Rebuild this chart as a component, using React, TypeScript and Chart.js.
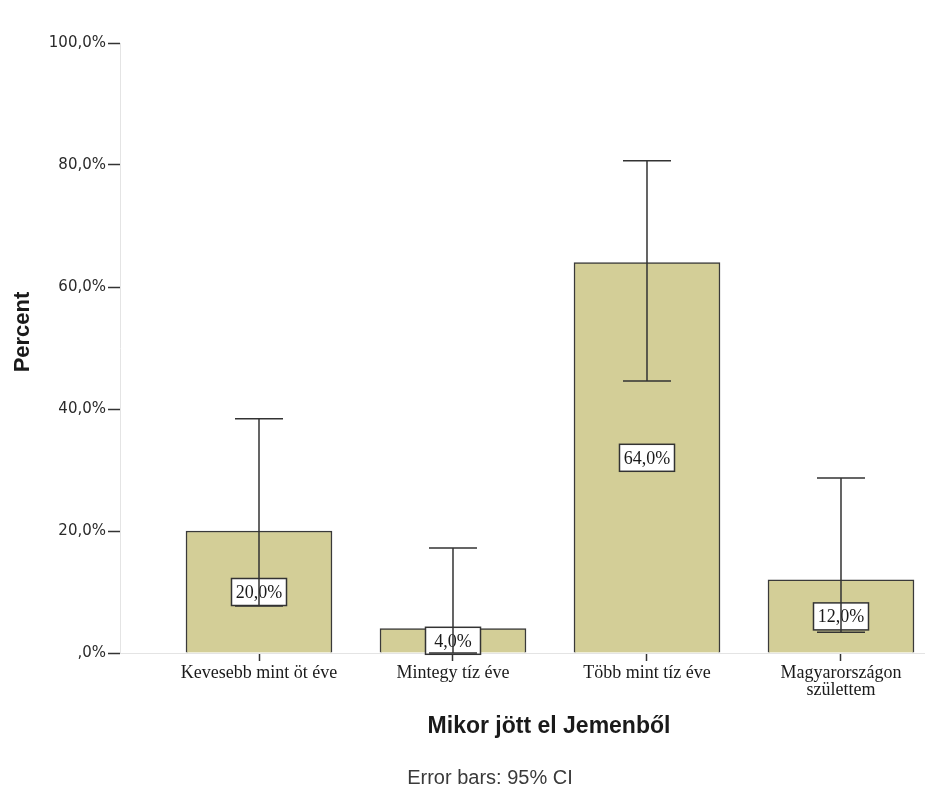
import React, { useEffect, useRef } from "react";
import { Chart, registerables } from "chart.js";

Chart.register(...registerables);

const categories: (string | string[])[] = [
  "Kevesebb mint öt éve",
  "Mintegy tíz éve",
  "Több mint tíz éve",
  ["Magyarországon", "születtem"],
];
const percents = [20, 4, 64, 12];
const ciLower = [7.7, 0, 44.6, 3.4];
const ciUpper = [38.4, 17.2, 80.7, 28.7];
const yTicks = [0, 20, 40, 60, 80, 100];

const xTitle = "Mikor jött el Jemenből";
const yTitle = "Percent";
const footnote = "Error bars: 95% CI";

const fmt = (v: number) => (v === 0 ? ",0%" : `${v.toFixed(1).replace(".", ",")}%`);

export default function App() {
  const ref = useRef<HTMLCanvasElement | null>(null);

  useEffect(() => {
    if (!ref.current) return;
    const overlay = {
      id: "overlay",
      afterDatasetsDraw(chart: any) {
        const { ctx, scales } = chart;
        const x = scales.x;
        const y = scales.y;
        ctx.save();
        // value labels
        percents.forEach((v, i) => {
          const cx = x.getPixelForValue(i);
          const cy = y.getPixelForValue(v / 2);
          const w = 55;
          const h = 27;
          ctx.fillStyle = "#ffffff";
          ctx.fillRect(cx - w / 2, cy - h / 2, w, h);
          ctx.strokeStyle = "#333333";
          ctx.lineWidth = 1.5;
          ctx.strokeRect(cx - w / 2, cy - h / 2, w, h);
          ctx.fillStyle = "#1a1a1a";
          ctx.font = "18px 'Liberation Serif'";
          ctx.textAlign = "center";
          ctx.textBaseline = "middle";
          ctx.fillText(fmt(v), cx, cy + 1);
        });
        // error bars
        ctx.strokeStyle = "#333333";
        ctx.lineWidth = 1.5;
        percents.forEach((_, i) => {
          const cx = x.getPixelForValue(i);
          const yl = y.getPixelForValue(ciLower[i]);
          const yh = y.getPixelForValue(ciUpper[i]);
          const cap = 24;
          ctx.beginPath();
          ctx.moveTo(cx, yl);
          ctx.lineTo(cx, yh);
          ctx.moveTo(cx - cap, yh);
          ctx.lineTo(cx + cap, yh);
          ctx.moveTo(cx - cap, yl);
          ctx.lineTo(cx + cap, yl);
          ctx.stroke();
        });
        ctx.restore();
      },
      afterDraw(chart: any) {
        const { ctx } = chart;
        ctx.save();
        ctx.fillStyle = "#1a1a1a";
        ctx.textAlign = "center";
        ctx.textBaseline = "middle";
        ctx.font = "bold 23px 'Liberation Sans'";
        ctx.fillText(xTitle, 549, 727);
        ctx.font = "20px 'Liberation Sans'";
        ctx.fillStyle = "#3a3a3a";
        ctx.fillText(footnote, 490, 778);
        ctx.translate(23, 332);
        ctx.rotate(-Math.PI / 2);
        ctx.fillStyle = "#1a1a1a";
        ctx.font = "bold 22px 'Liberation Sans'";
        ctx.fillText(yTitle, 0, 0);
        ctx.restore();
      },
    };

    const chart = new Chart(ref.current, {
      type: "bar",
      data: {
        datasets: [
          {
            data: percents.map((v, i) => ({ x: i, y: v })),
            backgroundColor: "#d3ce97",
            borderColor: "#3a3a3a",
            borderWidth: 1.5,
            barThickness: 146,
          } as any,
        ],
      },
      options: {
        animation: false,
        responsive: false,
        devicePixelRatio: 1,
        layout: { padding: { top: 43, left: 0, right: 0, bottom: 0 } },
        plugins: { legend: { display: false }, tooltip: { enabled: false } },
        scales: {
          x: {
            type: "linear",
            min: -0.7165,
            max: 3.433,
            offset: false,
            afterBuildTicks: (s: any) => {
              s.ticks = categories.map((_, i) => ({ value: i }));
            },
            afterFit: (s: any) => {
              s.height = 138;
            },
            grid: {
              offset: false,
              drawOnChartArea: false,
              drawTicks: true,
              tickLength: 8,
              tickColor: "#333333",
              tickWidth: 1.5,
            },
            border: { color: "#e4e4e4", width: 1 },
            ticks: {
              autoSkip: false,
              maxRotation: 0,
              padding: 4,
              color: "#1a1a1a",
              font: { family: "'Liberation Serif'", size: 18, lineHeight: 0.95 },
              callback: (v: any) => categories[v as number] as any,
            },
          },
          y: {
            min: 0,
            max: 100,
            afterBuildTicks: (s: any) => {
              s.ticks = yTicks.map((v) => ({ value: v }));
            },
            afterFit: (s: any) => {
              s.width = 120;
            },
            grid: {
              drawOnChartArea: false,
              drawTicks: true,
              tickLength: 12,
              tickColor: "#333333",
              tickWidth: 1.5,
            },
            border: { color: "#e4e4e4", width: 1 },
            ticks: {
              padding: 2,
              color: "#2a2a2a",
              font: { family: "'DejaVu Sans'", size: 15 },
              callback: (v: any) => fmt(Number(v)),
            },
          },
        },
      },
      plugins: [overlay],
    } as any);
    return () => chart.destroy();
  }, []);

  return (
    <div style={{ position: "fixed", left: 0, top: 0, width: 925, height: 791, background: "#fff" }}>
      <canvas ref={ref} width={925} height={791} style={{ width: 925, height: 791 }} />
    </div>
  );
}
